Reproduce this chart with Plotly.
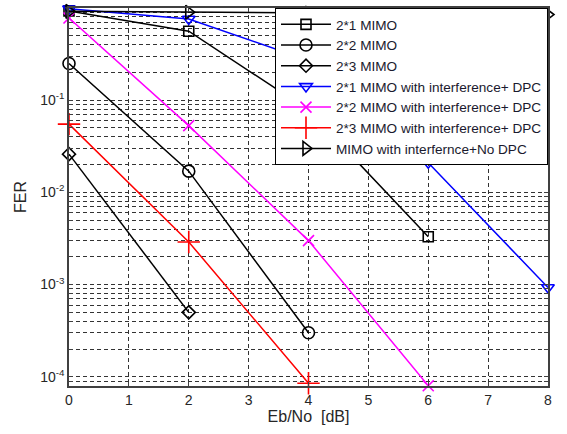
import plotly.graph_objects as go

ebno = [0, 2, 4, 6, 8]

mimo21 = [0.93, 0.56, 0.078, 0.0033]
mimo22 = [0.25, 0.017, 0.0003]
mimo23 = [0.026, 0.0005]
dpc21 = [0.98, 0.76, 0.27, 0.021, 0.00093]
dpc22 = [0.78, 0.053, 0.003, 0.00008]
dpc23 = [0.055, 0.0029, 0.000085]
nodpc = [0.92, 0.9, 0.88, 0.87, 0.85]

names = ["2*1 MIMO", "2*2 MIMO", "2*3 MIMO",
         "2*1 MIMO with interference+ DPC",
         "2*2 MIMO with interference+ DPC",
         "2*3 MIMO with interference+ DPC",
         "MIMO with interfernce+No DPC"]

series = [mimo21, mimo22, mimo23, dpc21, dpc22, dpc23, nodpc]
colors = ["black", "black", "black", "#0000ff", "#ff00ff", "#ff0000", "black"]
symbols = ["square-open", "circle-open", "diamond-open", "triangle-down-open",
           "x-thin-open", "cross-thin-open", "triangle-right-open"]
sizes = [10, 12, 10, 11, 11, 16, 12]

decades = [1, 0.1, 0.01, 0.001, 0.0001]
decade_labels = ["10<sup>0</sup>", "10<sup>-1</sup>", "10<sup>-2</sup>",
                 "10<sup>-3</sup>", "10<sup>-4</sup>"]

# tick positions: decades labelled, 2..9 multiples unlabelled (minor grid)
ytickvals, yticktext = [], []
for d, lab in zip(decades, decade_labels):
    ytickvals.append(d)
    yticktext.append(lab)
    if d < 1:
        for m in range(2, 10):
            ytickvals.append(d * m)
            yticktext.append("")
ytickvals.append(0.00008)
yticktext.append("")
ytickvals.append(0.00009)
yticktext.append("")

fig = go.Figure()
for name, ys, c, s, sz in zip(names, series, colors, symbols, sizes):
    fig.add_trace(go.Scatter(
        x=ebno[:len(ys)], y=ys, name=name, mode="lines+markers",
        line=dict(color=c, width=1.5),
        marker=dict(symbol=s, size=sz, color=c, line=dict(color=c, width=1.6)),
        cliponaxis=False,
    ))

axcol = "#404040"
gridc = "#333333"
fig.update_layout(
    width=567, height=434,
    margin=dict(l=69, r=19, t=8, b=48),
    paper_bgcolor="white", plot_bgcolor="white",
    font=dict(family="Liberation Sans, Arial, sans-serif", size=14, color="#262626"),
    xaxis=dict(
        range=[0, 8], dtick=1, tick0=0, automargin=False,
        showline=True, linecolor=axcol, linewidth=1.5, mirror="ticks",
        ticks="inside", ticklen=4, tickcolor=axcol,
        showgrid=True, gridcolor=gridc, griddash="4px,3px", gridwidth=1,
        zeroline=False, tickfont=dict(size=14),
        title=dict(text="Eb/No  [dB]", font=dict(size=16), standoff=1),
    ),
    yaxis=dict(
        type="log", range=[-4.1, 0.0], automargin=False,
        tickmode="array", tickvals=ytickvals, ticktext=yticktext,
        showline=True, linecolor=axcol, linewidth=1.5, mirror="ticks",
        ticks="inside", ticklen=4, tickcolor=axcol,
        showgrid=True, gridcolor=gridc, griddash="4px,3px", gridwidth=1,
        zeroline=False, tickfont=dict(size=14),
        title=dict(text="FER", font=dict(size=16), standoff=10),
    ),
    legend=dict(
        x=1, y=1, xanchor="right", yanchor="top",
        bgcolor="white", bordercolor="black", borderwidth=1,
        font=dict(size=13.6, color="#1a1a2e"),
        tracegroupgap=0, itemwidth=50,
    ),
)

fig.write_html("out.html", config={"displayModeBar": False},
               post_script="document.body.style.margin='0px';")
